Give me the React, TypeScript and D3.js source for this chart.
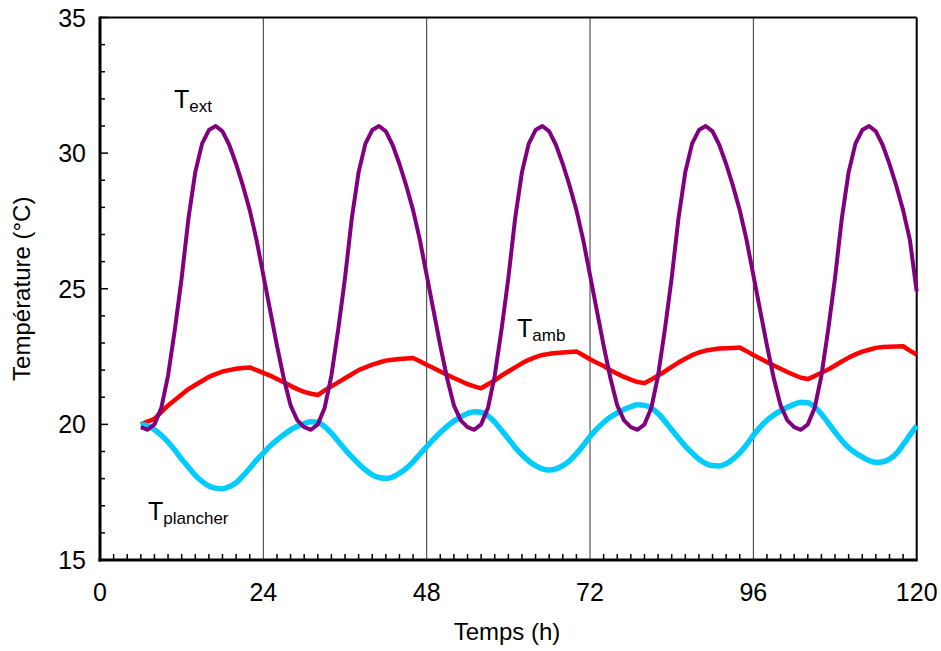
import React from "react";
import * as d3 from "d3";

// Time axis (hours) of the sampled points
const hours: number[] = d3.range(6, 121);

// Outside temperature T_ext (°C), hourly from t=6 to t=120
const tExt: number[] = [
  19.9, 19.8, 20.0, 20.6, 21.8, 23.5, 25.4, 27.6, 29.3, 30.35, 30.85, 31.0, 30.8, 30.3, 29.6, 28.8, 27.9, 26.8, 25.5, 24.2, 22.9, 21.7, 20.7, 20.15,
  19.9, 19.8, 20.0, 20.6, 21.8, 23.5, 25.4, 27.6, 29.3, 30.35, 30.85, 31.0, 30.8, 30.3, 29.6, 28.8, 27.9, 26.8, 25.5, 24.2, 22.9, 21.7, 20.7, 20.15,
  19.9, 19.8, 20.0, 20.6, 21.8, 23.5, 25.4, 27.6, 29.3, 30.35, 30.85, 31.0, 30.8, 30.3, 29.6, 28.8, 27.9, 26.8, 25.5, 24.2, 22.9, 21.7, 20.7, 20.15,
  19.9, 19.8, 20.0, 20.6, 21.8, 23.5, 25.4, 27.6, 29.3, 30.35, 30.85, 31.0, 30.8, 30.3, 29.6, 28.8, 27.9, 26.8, 25.5, 24.2, 22.9, 21.7, 20.7, 20.15,
  19.9, 19.8, 20.0, 20.6, 21.8, 23.5, 25.4, 27.6, 29.3, 30.35, 30.85, 31.0, 30.8, 30.3, 29.6, 28.8, 27.9, 26.8, 24.9,
];

// Room temperature T_amb (°C)
const tAmb: number[] = [
  20.0, 20.1, 20.2, 20.45, 20.7, 20.9, 21.1, 21.3, 21.45, 21.6, 21.75, 21.85, 21.95, 22.0, 22.05, 22.08, 22.1, 22.0, 21.9, 21.8, 21.67, 21.55, 21.42, 21.3, 21.2, 21.13, 21.08,
  21.25, 21.4, 21.55, 21.7, 21.85, 22.0, 22.1, 22.2, 22.28, 22.35, 22.38, 22.41, 22.43, 22.45, 22.33, 22.2, 22.08, 21.95, 21.83, 21.71, 21.6, 21.48, 21.4, 21.33,
  21.48, 21.62, 21.8, 21.95, 22.1, 22.25, 22.38, 22.48, 22.56, 22.6, 22.63, 22.65, 22.67, 22.69, 22.55, 22.4, 22.27, 22.15, 22.0, 21.87, 21.75, 21.65, 21.56, 21.52,
  21.65, 21.8, 21.95, 22.12, 22.28, 22.42, 22.55, 22.65, 22.72, 22.76, 22.8, 22.81, 22.82, 22.83, 22.7, 22.56, 22.43, 22.3, 22.17, 22.05, 21.93, 21.82, 21.72, 21.67,
  21.78, 21.9, 22.02, 22.17, 22.32, 22.46, 22.58, 22.68, 22.75, 22.82, 22.85, 22.86, 22.87, 22.88, 22.72, 22.57,
];

// Floor temperature T_plancher (°C)
const tPlancher: number[] = [
  20.0, 19.95, 19.8, 19.6, 19.35, 19.05, 18.72, 18.42, 18.12, 17.9, 17.73, 17.65, 17.63, 17.7, 17.85, 18.1, 18.38, 18.68, 18.94, 19.2, 19.42, 19.62, 19.8, 19.93, 20.03, 20.1, 20.08,
  19.92, 19.68, 19.38, 19.08, 18.8, 18.55, 18.32, 18.14, 18.04, 18.01, 18.06, 18.2, 18.38, 18.62, 18.9, 19.18, 19.45, 19.7, 19.93, 20.12, 20.28, 20.4, 20.47, 20.45,
  20.32, 20.08, 19.78, 19.47, 19.15, 18.88, 18.65, 18.48, 18.36, 18.32, 18.36, 18.48, 18.66, 18.92, 19.22, 19.55, 19.83, 20.07, 20.27, 20.42, 20.55, 20.65, 20.72, 20.7,
  20.6, 20.4, 20.12, 19.8, 19.5, 19.2, 18.95, 18.72, 18.56, 18.48, 18.47, 18.55, 18.72, 18.95, 19.25, 19.6, 19.9, 20.15, 20.35, 20.5, 20.63, 20.74, 20.82, 20.8,
  20.65, 20.38, 20.05, 19.72, 19.4, 19.14, 18.95, 18.8, 18.67, 18.6, 18.62, 18.72, 18.92, 19.25, 19.6, 19.95,
];

const xTicks: number[] = [0, 24, 48, 72, 96, 120];
const yTicks: number[] = [15, 20, 25, 30, 35];
const xGrid: number[] = [24, 48, 72, 96];

const W = 941;
const H = 651;
const FONT = "Arial, 'Liberation Sans', Helvetica, sans-serif";

export default function App() {
  const left = 100, right = 916.7, top = 17.5, bottom = 560;
  const x = d3.scaleLinear().domain([0, 120]).range([left, right]);
  const y = d3.scaleLinear().domain([15, 35]).range([bottom, top]);

  const mk = (vals: number[], curve: any) =>
    d3
      .line<number>()
      .x((_, i) => x(hours[i]))
      .y((v) => y(v))
      .curve(curve)(vals) || "";

  const yMinor = d3.range(15, 36, 1).filter((v) => v % 5 !== 0);
  const xMinor = d3.range(0, 121, 2).filter((v) => v % 24 !== 0);

  return (
    <svg
      width={W}
      height={H}
      style={{ position: "absolute", left: 0, top: 0, background: "#fff" }}
      fontFamily={FONT}
    >
      <rect x={0} y={0} width={W} height={H} fill="#fff" />
      {xGrid.map((g) => (
        <line key={"g" + g} x1={x(g)} x2={x(g)} y1={top} y2={bottom} stroke="#333" strokeWidth={1} />
      ))}
      <line x1={left} x2={right} y1={top} y2={top} stroke="#000" strokeWidth={2} />
      <line x1={right} x2={right} y1={top} y2={bottom} stroke="#000" strokeWidth={2} />
      {yMinor.map((v) => (
        <line key={"ym" + v} x1={left} x2={left + 5} y1={y(v)} y2={y(v)} stroke="#000" strokeWidth={1.5} />
      ))}
      {yTicks.map((v) => (
        <line key={"yM" + v} x1={left} x2={left + 8} y1={y(v)} y2={y(v)} stroke="#000" strokeWidth={1.5} />
      ))}
      {xMinor.map((v) => (
        <line key={"xm" + v} x1={x(v)} x2={x(v)} y1={bottom} y2={bottom - 6} stroke="#000" strokeWidth={1.5} />
      ))}
      <path d={mk(tAmb, d3.curveLinear)} fill="none" stroke="#ff0000" strokeWidth={4.5} strokeLinejoin="round" />
      <path d={mk(tPlancher, d3.curveMonotoneX)} fill="none" stroke="#00ccff" strokeWidth={5.5} strokeLinejoin="round" />
      <path d={mk(tExt, d3.curveLinear)} fill="none" stroke="#800080" strokeWidth={4} strokeLinejoin="round" />
      <line x1={left} x2={left} y1={top - 1} y2={bottom + 1.5} stroke="#000" strokeWidth={3} />
      <line x1={left - 1.5} x2={right + 1} y1={bottom} y2={bottom} stroke="#000" strokeWidth={3} />
      {yTicks.map((v) => (
        <text key={"yl" + v} x={86} y={y(v) + 9} textAnchor="end" fontSize={25} fill="#000">
          {v}
        </text>
      ))}
      {xTicks.map((v) => (
        <text key={"xl" + v} x={x(v)} y={601} textAnchor="middle" fontSize={25} fill="#000">
          {v}
        </text>
      ))}
      <text x={507} y={640} textAnchor="middle" fontSize={24} fill="#000">
        Temps (h)
      </text>
      <text
        transform={`translate(30,${(top + bottom) / 2}) rotate(-90)`}
        textAnchor="middle"
        fontSize={24}
        fill="#000"
      >
        Température (°C)
      </text>
      <text x={174} y={108} fontSize={25} fill="#000">
        T<tspan fontSize={17} dy={4}>ext</tspan>
      </text>
      <text x={517} y={337} fontSize={25} fill="#000">
        T<tspan fontSize={17} dy={4}>amb</tspan>
      </text>
      <text x={148} y={520} fontSize={25} fill="#000">
        T<tspan fontSize={17} dy={4}>plancher</tspan>
      </text>
    </svg>
  );
}
